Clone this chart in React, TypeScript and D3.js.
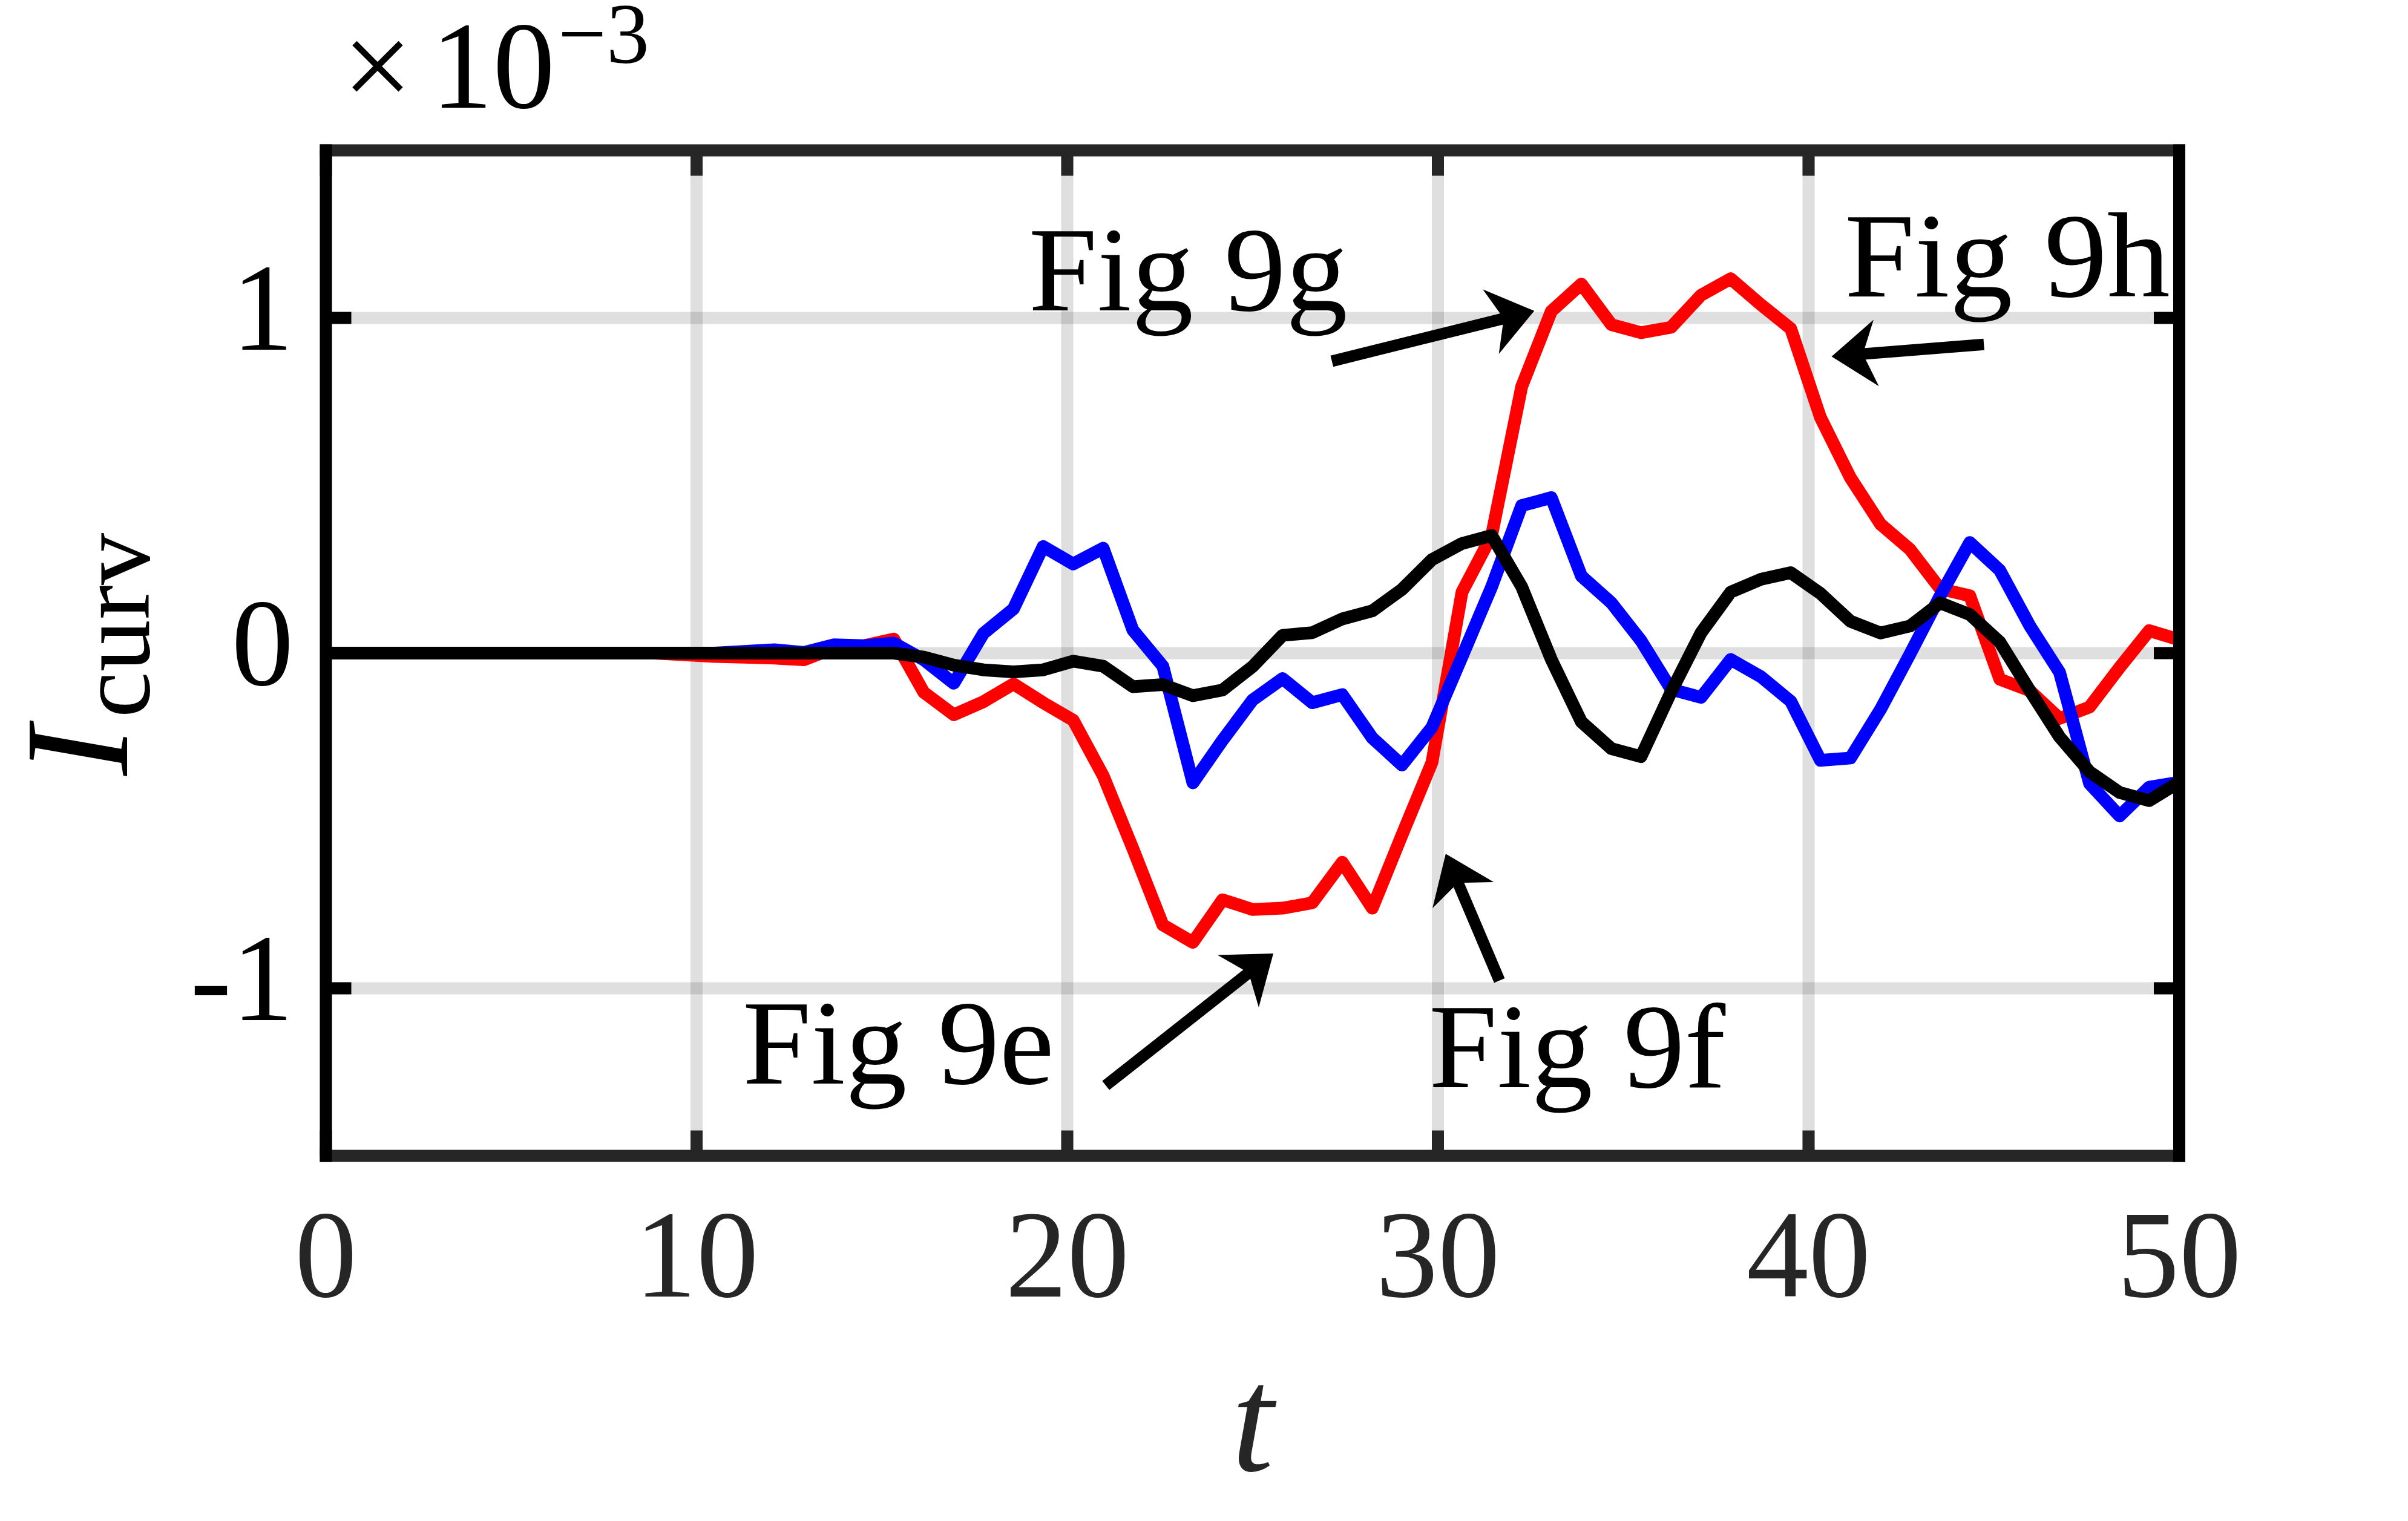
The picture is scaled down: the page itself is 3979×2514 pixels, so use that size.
import { useEffect } from 'react';
import * as d3 from 'd3';

// time samples (63 points on [0, 50])
const times = [
  0, 0.81, 1.61, 2.42, 3.23, 4.03, 4.84, 5.65, 6.45, 7.26, 8.06, 8.87, 9.68, 10.48, 11.29, 12.1,
  12.9, 13.71, 14.52, 15.32, 16.13, 16.94, 17.74, 18.55, 19.35, 20.16, 20.97, 21.77, 22.58, 23.39,
  24.19, 25.0, 25.81, 26.61, 27.42, 28.23, 29.03, 29.84, 30.65, 31.45, 32.26, 33.06, 33.87, 34.68,
  35.48, 36.29, 37.1, 37.9, 38.71, 39.52, 40.32, 41.13, 41.94, 42.74, 43.55, 44.35, 45.16, 45.97,
  46.77, 47.58, 48.39, 49.19, 50.0,
];

// I_curv values, in units of 1e-3
const redSeries = [
  0, 0, 0, 0, 0, 0, 0, 0, 0, 0, 0, 0, -0.005, -0.01, -0.012, -0.015,
  -0.02, 0.015, 0.022, 0.042, -0.117, -0.184, -0.145, -0.092, -0.148, -0.2, -0.366, -0.583, -0.811, -0.863,
  -0.736, -0.765, -0.761, -0.745, -0.624, -0.761, -0.543, -0.326, 0.182, 0.351, 0.795, 1.02, 1.101, 0.98,
  0.956, 0.972, 1.068, 1.117, 1.04, 0.968, 0.703, 0.523, 0.385, 0.309, 0.192, 0.171, -0.078, -0.112,
  -0.195, -0.161, -0.043, 0.067, 0.04,
];

const blueSeries = [
  0, 0, 0, 0, 0, 0, 0, 0, 0, 0, 0, 0, 0, 0, 0.005, 0.01,
  0.002, 0.025, 0.022, 0.03, -0.02, -0.09, 0.059, 0.132, 0.318, 0.266, 0.313, 0.069, -0.039, -0.387,
  -0.26, -0.14, -0.076, -0.148, -0.124, -0.253, -0.334, -0.221, -0.011, 0.198, 0.44, 0.464, 0.23, 0.15,
  0.037, -0.108, -0.132, -0.019, -0.07, -0.144, -0.32, -0.313, -0.168, -0.002, 0.171, 0.33, 0.247, 0.081,
  -0.057, -0.389, -0.486, -0.4, -0.385,
];

const blackSeries = [
  0, 0, 0, 0, 0, 0, 0, 0, 0, 0, 0, 0, 0, 0, 0, 0,
  0, 0, 0, 0, -0.012, -0.036, -0.05, -0.056, -0.05, -0.024, -0.039, -0.1, -0.094, -0.127,
  -0.11, -0.04, 0.053, 0.061, 0.102, 0.126, 0.19, 0.279, 0.327, 0.351, 0.198, -0.019, -0.205, -0.285,
  -0.309, -0.116, 0.061, 0.182, 0.22, 0.24, 0.178, 0.095, 0.06, 0.081, 0.15, 0.115, 0.033, -0.112,
  -0.25, -0.354, -0.416, -0.44, -0.385,
];

const xTicks = [0, 10, 20, 30, 40, 50];
const yTicks = [-1, 0, 1];
const yTickLabels = ['-1', '0', '1'];

// annotations: label position and arrow (tail -> tip) in data coordinates
const notes = [
  { label: 'Fig 9g', x: 18.96, y: 1.023, len: 527, tail: [27.14, 0.871], tip: [32.6, 1.021] },
  { label: 'Fig 9h', x: 40.97, y: 1.064, len: 538, tail: [44.73, 0.921], tip: [40.62, 0.885] },
  { label: 'Fig 9e', x: 11.24, y: -1.284, len: 515, tail: [21.04, -1.29], tip: [25.56, -0.896] },
  { label: 'Fig 9f', x: 29.76, y: -1.295, len: 490, tail: [31.66, -0.977], tip: [30.21, -0.599] },
];

const W = 3979;
const H = 2514;
const left = 538.5, right = 3601, top = 248.5, bottom = 1910.5;
const FONT = '"Liberation Serif", "Times New Roman", serif';
const AX = '#262626';

export default function App() {
  useEffect(() => {
    document.body.style.margin = '0';
    document.body.style.overflow = 'hidden';
  }, []);

  const x = d3.scaleLinear().domain([0, 50]).range([left, right]);
  const y = d3.scaleLinear().domain([-1.5, 1.5]).range([bottom, top]);

  const line = d3.line<number>()
    .x((_, i) => x(times[i]))
    .y(d => y(d));

  const series = [
    { values: redSeries, color: '#ff0000' },
    { values: blueSeries, color: '#0000ff' },
    { values: blackSeries, color: '#000000' },
  ];

  const tickLen = 42;

  const arrow = (tail: number[], tip: number[]) => {
    const x0 = x(tail[0]), y0 = y(tail[1]);
    const x1 = x(tip[0]), y1 = y(tip[1]);
    const L = Math.hypot(x1 - x0, y1 - y0);
    const ux = (x1 - x0) / L, uy = (y1 - y0) / L;
    const px = -uy, py = ux;
    const headLen = 74, half = 55, notch = 52;
    const nx = x1 - ux * notch, ny = y1 - uy * notch;
    const c1 = [x1 - ux * headLen + px * half, y1 - uy * headLen + py * half];
    const c2 = [x1 - ux * headLen - px * half, y1 - uy * headLen - py * half];
    return (
      <g>
        <line x1={x0} y1={y0} x2={nx + ux * 5} y2={ny + uy * 5} stroke="#000" strokeWidth={19} />
        <polygon points={`${x1},${y1} ${c1[0]},${c1[1]} ${nx},${ny} ${c2[0]},${c2[1]}`} fill="#000" />
      </g>
    );
  };

  return (
    <svg width={W} height={H} style={{ position: 'absolute', left: 0, top: 0, background: '#fff' }}>
      <rect width={W} height={H} fill="#fff" />

      {/* grid */}
      <g stroke={AX} strokeOpacity={0.15} strokeWidth={20}>
        {xTicks.map(t => (
          <line key={`gx${t}`} x1={x(t)} x2={x(t)} y1={top} y2={bottom} />
        ))}
        {yTicks.map(v => (
          <line key={`gy${v}`} x1={left} x2={right} y1={y(v)} y2={y(v)} />
        ))}
      </g>

      {/* data */}
      {series.map(s => (
        <path key={s.color} d={line(s.values) ?? ''} fill="none" stroke={s.color}
          strokeWidth={21} strokeLinejoin="round" />
      ))}

      {/* ticks */}
      <g stroke={AX} strokeWidth={20}>
        {xTicks.map(t => (
          <g key={`tx${t}`}>
            <line x1={x(t)} x2={x(t)} y1={bottom} y2={bottom - tickLen} />
            <line x1={x(t)} x2={x(t)} y1={top} y2={top + tickLen} />
          </g>
        ))}
      </g>
      <g stroke="#000" strokeWidth={20}>
        {yTicks.map(v => (
          <g key={`ty${v}`}>
            <line x1={left} x2={left + tickLen} y1={y(v)} y2={y(v)} />
            <line x1={right} x2={right - tickLen} y1={y(v)} y2={y(v)} />
          </g>
        ))}
      </g>

      {/* box */}
      <line x1={left} x2={right} y1={top} y2={top} stroke={AX} strokeWidth={20} strokeLinecap="square" />
      <line x1={left} x2={right} y1={bottom} y2={bottom} stroke={AX} strokeWidth={20} strokeLinecap="square" />
      <line x1={left} x2={left} y1={top} y2={bottom} stroke="#000" strokeWidth={20} strokeLinecap="square" />
      <line x1={right} x2={right} y1={top} y2={bottom} stroke="#000" strokeWidth={20} strokeLinecap="square" />

      {/* tick labels */}
      <g fontFamily={FONT} fontSize={205} fill={AX} textAnchor="middle">
        {xTicks.map(t => (
          <text key={`lx${t}`} x={x(t)} y={2143}>{t}</text>
        ))}
      </g>
      <g fontFamily={FONT} fontSize={205} fill="#000" textAnchor="end">
        {yTicks.map((v, i) => (
          <text key={`ly${v}`} x={485} y={y(v) + 52}>{yTickLabels[i]}</text>
        ))}
      </g>

      {/* exponent */}
      <text x={566} y={178} fontFamily={FONT} fontSize={205} fill="#000">×</text>
      <text x={712} y={178} fontFamily={FONT} fontSize={205} fill="#000">10</text>
      <text x={922} y={104} fontFamily={FONT} fontSize={142} fill="#000">−3</text>

      {/* axis labels */}
      <text transform={`translate(210, ${(top + bottom) / 2 + 2}) rotate(-90)`} fontFamily={FONT}
        fill="#000" textAnchor="middle">
        <tspan fontStyle="italic" fontSize={245}>I</tspan>
        <tspan fontSize={172} dx={14} dy={36}>curv</tspan>
      </text>
      <text x={(left + right) / 2} y={2431} fontFamily={FONT} fontStyle="italic" fontSize={250}
        fill={AX} textAnchor="middle">t</text>

      {/* annotations */}
      {notes.map(n => (
        <g key={n.label}>
          <text x={x(n.x)} y={y(n.y)} fontFamily={FONT} fontSize={200} fill="#000"
            textLength={n.len} lengthAdjust="spacingAndGlyphs">{n.label}</text>
          {arrow(n.tail, n.tip)}
        </g>
      ))}
    </svg>
  );
}
